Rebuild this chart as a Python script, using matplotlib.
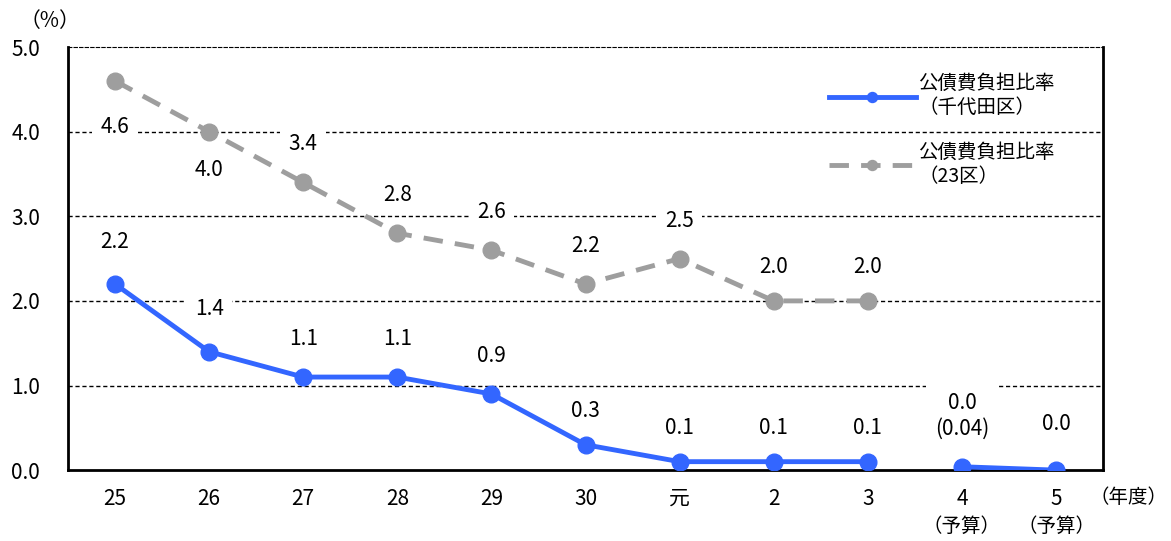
import matplotlib.pyplot as plt

plt.rcParams['font.family'] = ['Noto Sans CJK JP', 'DejaVu Sans']

# 年度ラベル
years = ['25', '26', '27', '28', '29', '30', '元', '2', '3', '4', '5']
# 公債費負担比率（千代田区）
chiyoda = [2.2, 1.4, 1.1, 1.1, 0.9, 0.3, 0.1, 0.1, 0.1, 0.04, 0.0]
chiyoda_labels = ['2.2', '1.4', '1.1', '1.1', '0.9', '0.3', '0.1', '0.1', '0.1',
                  '0.0\n(0.04)', '0.0']
# 公債費負担比率（23区）
ku23 = [4.6, 4.0, 3.4, 2.8, 2.6, 2.2, 2.5, 2.0, 2.0]
ku23_labels = ['4.6', '4.0', '3.4', '2.8', '2.6', '2.2', '2.5', '2.0', '2.0']

blue = '#3366FF'
gray = '#9E9E9E'

fig = plt.figure(figsize=(11.71, 5.41), dpi=100)
ax = fig.add_axes([0.058, 0.131, 0.884, 0.782])

x = list(range(len(years)))

# 23区（破線）
ax.plot(x[:len(ku23)], ku23, color=gray, linestyle=(0, (4, 2.5)), linewidth=3.5,
        marker='o', markersize=12, zorder=3, label='公債費負担比率\n（23区）')
# 千代田区（実線）：決算と予算は線をつなげない
ax.plot(x[:9], chiyoda[:9], color=blue, linewidth=3.5, marker='o',
        markersize=12, zorder=4, label='公債費負担比率\n（千代田区）')
ax.plot(x[9:], chiyoda[9:], color=blue, linewidth=3.5, marker='o',
        markersize=12, zorder=4)

box = dict(facecolor='white', edgecolor='none', pad=6)
fs = 15

# 23区の数値ラベル（上か下か）
ku23_offsets = [-0.55, -0.45, 0.45, 0.45, 0.45, 0.45, 0.45, 0.4, 0.4]
for i, (v, t) in enumerate(zip(ku23, ku23_labels)):
    ax.text(i, v + ku23_offsets[i], t, ha='center', va='center', fontsize=fs,
            bbox=box, zorder=2)

# 千代田区の数値ラベル
chiyoda_offsets = [0.5, 0.5, 0.45, 0.45, 0.45, 0.4, 0.4, 0.4, 0.4, 0.6, 0.55]
for i, (v, t) in enumerate(zip(chiyoda, chiyoda_labels)):
    ax.text(i, v + chiyoda_offsets[i], t, ha='center', va='center', fontsize=fs,
            bbox=box, zorder=2, linespacing=1.2)

ax.set_xlim(-0.5, 10.5)
ax.set_ylim(0, 5)
ax.set_yticks([0, 1, 2, 3, 4, 5])
ax.set_yticklabels(['0.0', '1.0', '2.0', '3.0', '4.0', '5.0'], fontsize=fs)
ax.set_xticks(x)
ax.set_xticklabels(years, fontsize=fs)
ax.tick_params(length=0, pad=13)
ax.tick_params(axis='y', pad=20)

for yv in [1, 2, 3, 4]:
    ax.axhline(yv, color='black', linestyle=(0, (3, 2)), linewidth=1, zorder=1)

ax.spines['left'].set_linewidth(2)
ax.spines['bottom'].set_linewidth(2)
ax.spines['right'].set_linewidth(2)
ax.spines['top'].set_linewidth(0.8)
ax.spines['top'].set_linestyle((0, (3, 2)))

handles, labels = ax.get_legend_handles_labels()
ax.legend(handles[::-1], labels[::-1], loc='upper right', frameon=False,
          fontsize=14, handlelength=4.5, labelspacing=1.2, handletextpad=0.1,
          bbox_to_anchor=(0.97, 0.98), markerscale=0.6)

fig.text(0.017, 0.962, '（%）', ha='left', va='center', fontsize=fs)
fig.text(0.997, 0.081, '（年度）', ha='right', va='center', fontsize=fs - 1)
for i in [9, 10]:
    ax.text(i, -0.66, '（予算）', ha='center', va='center', fontsize=fs - 1,
            clip_on=False)

fig.savefig('out.png', dpi=100)
